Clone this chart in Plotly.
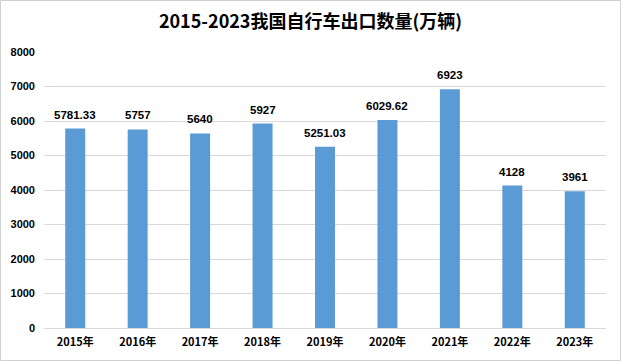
import plotly.graph_objects as go

years = ["2015年", "2016年", "2017年", "2018年", "2019年", "2020年", "2021年", "2022年", "2023年"]
exports = [5781.33, 5757, 5640, 5927, 5251.03, 6029.62, 6923, 4128, 3961]
labels = ["5781.33", "5757", "5640", "5927", "5251.03", "6029.62", "6923", "4128", "3961"]
y_ticks = [0, 1000, 2000, 3000, 4000, 5000, 6000, 7000, 8000]

fig = go.Figure(go.Bar(
    x=years, y=exports,
    marker=dict(color="#5B9BD5", line=dict(width=0)),
))

for yr, v, lab in zip(years, exports, labels):
    fig.add_annotation(x=yr, y=v, text=lab, showarrow=False, yanchor="bottom", yshift=6,
                       font=dict(family="Liberation Sans, Arial", size=11.5, color="#000000", weight="bold"))

fig.update_layout(
    width=621, height=361,
    margin=dict(l=44, r=15, t=52, b=33),
    paper_bgcolor="white", plot_bgcolor="white",
    bargap=0.68,
    showlegend=False,
    title=dict(text="<b>2015-2023我国自行车出口数量(万辆)</b>", x=0.5, xanchor="center",
               y=1 - 22 / 361, yanchor="middle",
               font=dict(family="Noto Sans CJK SC", size=18, color="#000000")),
    font=dict(family="Noto Sans CJK SC", color="#000000"),
    xaxis=dict(showgrid=False, showline=True, linecolor="#D9D9D9", linewidth=1, automargin=False,
               ticks="", tickfont=dict(family="Noto Sans CJK SC", size=11, color="#000000", weight="bold"),
               ticklabelstandoff=4),
    yaxis=dict(range=[0, 8000], tickvals=y_ticks, showgrid=True, gridcolor="#D9D9D9", automargin=False,
               zeroline=False, showline=False, ticks="",
               tickfont=dict(family="Liberation Sans, Arial", size=11, color="#000000", weight="bold"),
               ticklabelstandoff=8),
    shapes=[dict(type="rect", xref="paper", yref="paper", x0=-43.5/562, x1=1+14.5/562,
                 y0=-32.5/276, y1=1+51.5/276, line=dict(color="#D0D0D0", width=1))],
)

fig.write_html("out.html", config={"displayModeBar": False},
               post_script="document.body.style.margin='0';document.body.style.overflow='hidden';")
